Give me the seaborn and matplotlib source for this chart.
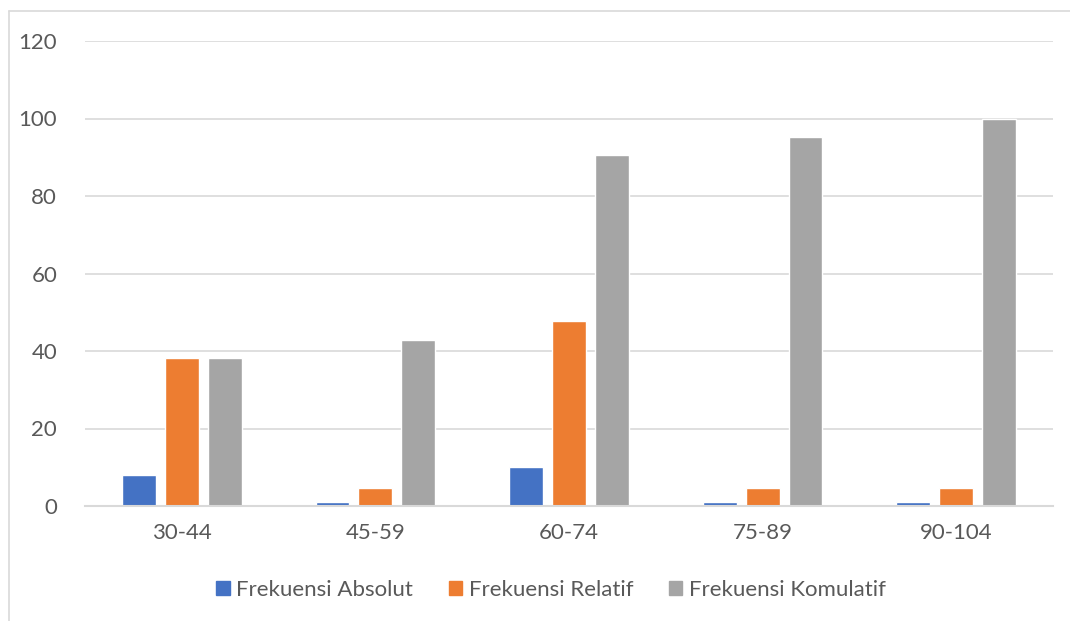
import matplotlib
matplotlib.use("Agg")
import matplotlib.pyplot as plt
import pandas as pd
import seaborn as sns
from matplotlib.lines import Line2D

# data (21 values in total)
kelas = ["30-44", "45-59", "60-74", "75-89", "90-104"]
absolut = [8, 1, 10, 1, 1]
relatif = [38.1, 4.76, 47.62, 4.76, 4.76]
komulatif = [38.1, 42.86, 90.48, 95.24, 100]
series = ["Frekuensi Absolut", "Frekuensi Relatif", "Frekuensi Komulatif"]
colors = ["#4472C4", "#ED7D31", "#A5A5A5"]

df = pd.DataFrame({"Kelas": kelas * 3,
                   "Nilai": absolut + relatif + komulatif,
                   "Seri": [s for s in series for _ in kelas]})

sns.set_style("white")
plt.rcParams["font.family"] = ["Lato", "DejaVu Sans"]
text_col = "#595959"

fig = plt.figure(figsize=(10.70, 6.21), dpi=100)
ax = fig.add_axes([85 / 1070, 115 / 621, 968 / 1070, 465 / 621])

sns.barplot(data=df, x="Kelas", y="Nilai", hue="Seri", palette=colors,
            width=0.665, gap=0.21, ax=ax, legend=False, saturation=1)

ax.set_xlim(-0.5, 4.5)
ax.set_ylim(0, 120)
ax.set_yticks(range(0, 121, 20))
ax.yaxis.grid(True, color="#D9D9D9", lw=1.2)
ax.set_axisbelow(True)
for s in ["left", "right", "top"]:
    ax.spines[s].set_visible(False)
ax.spines["bottom"].set_color("#D9D9D9")
ax.spines["bottom"].set_linewidth(1.5)
ax.set_xlabel("")
ax.set_ylabel("")
ax.tick_params(axis="both", length=0, labelsize=16, colors=text_col)
ax.tick_params(axis="y", pad=20)
ax.tick_params(axis="x", pad=12)

handles = [plt.Rectangle((0, 0), 1, 1, color=c) for c in colors]
fig.legend(handles, series, loc="center", bbox_to_anchor=(551 / 1070, 1 - 590 / 621),
           ncol=3, frameon=False, fontsize=16, labelcolor=text_col,
           handlelength=0.6, handleheight=0.6, handletextpad=0.3, columnspacing=1.6)

# chart border (cut at right and bottom in the reference)
fig.add_artist(Line2D([8.5 / 1070, 8.5 / 1070], [0, 1 - 11 / 621], color="#D9D9D9", lw=1.2))
fig.add_artist(Line2D([8.5 / 1070, 1], [1 - 11 / 621, 1 - 11 / 621], color="#D9D9D9", lw=1.2))

fig.savefig("out.png", dpi=100)
